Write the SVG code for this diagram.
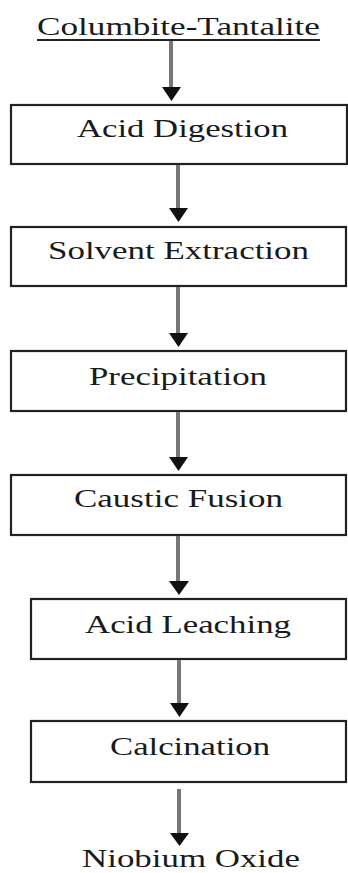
<svg xmlns="http://www.w3.org/2000/svg" width="348" height="873" viewBox="0 0 348 873">
<style>
.box{fill:#fff;stroke:#222;stroke-width:2.2}
.lbl{font-family:"Liberation Serif","Times New Roman",serif;font-size:25px;fill:#1a1a1a}
.ln{stroke:#777;stroke-width:4;fill:none}
.hd{fill:#111}
</style>
<rect width="348" height="873" fill="#fff"/>
<g id="start">
<text class="lbl" x="37" y="35" textLength="283" lengthAdjust="spacingAndGlyphs">Columbite-Tantalite</text>
<line x1="37" y1="40" x2="320" y2="40" stroke="#222" stroke-width="1.8"/>
</g>
<g id="acid-digestion">
<rect class="box" x="11" y="105" width="336" height="59"/>
<text class="lbl" x="77" y="137" textLength="211" lengthAdjust="spacingAndGlyphs">Acid Digestion</text>
</g>
<g id="solvent-extraction">
<rect class="box" x="11" y="227" width="335" height="59"/>
<text class="lbl" x="48" y="259" textLength="261" lengthAdjust="spacingAndGlyphs">Solvent Extraction</text>
</g>
<g id="precipitation">
<rect class="box" x="11" y="351" width="335" height="60"/>
<text class="lbl" x="89" y="385" textLength="178" lengthAdjust="spacingAndGlyphs">Precipitation</text>
</g>
<g id="caustic-fusion">
<rect class="box" x="11" y="475" width="335" height="60"/>
<text class="lbl" x="74" y="507" textLength="209" lengthAdjust="spacingAndGlyphs">Caustic Fusion</text>
</g>
<g id="acid-leaching">
<rect class="box" x="31" y="599" width="315" height="60"/>
<text class="lbl" x="85" y="633" textLength="206" lengthAdjust="spacingAndGlyphs">Acid Leaching</text>
</g>
<g id="calcination">
<rect class="box" x="31" y="721" width="315" height="61"/>
<text class="lbl" x="110" y="755" textLength="160" lengthAdjust="spacingAndGlyphs">Calcination</text>
</g>
<g id="end">
<text class="lbl" x="82" y="867" textLength="218" lengthAdjust="spacingAndGlyphs">Niobium Oxide</text>
</g>
<g id="connectors">
<line class="ln" x1="171" y1="41" x2="171" y2="88"/>
<polygon class="hd" points="162,87 181,87 171.5,101"/>
<line class="ln" x1="178" y1="165" x2="178" y2="209"/>
<polygon class="hd" points="169,208 188,208 178.5,222"/>
<line class="ln" x1="178" y1="287" x2="178" y2="334"/>
<polygon class="hd" points="169,333 188,333 178.5,347"/>
<line class="ln" x1="178" y1="412" x2="178" y2="458"/>
<polygon class="hd" points="169,457 188,457 178.5,471"/>
<line class="ln" x1="178" y1="536" x2="178" y2="582"/>
<polygon class="hd" points="169,581 189,581 179,595"/>
<line class="ln" x1="179" y1="660" x2="179" y2="704"/>
<polygon class="hd" points="170,703 189,703 179.5,717"/>
<line class="ln" x1="179" y1="789" x2="179" y2="834"/>
<polygon class="hd" points="170,833 189,833 179.5,846"/>
</g>
</svg>
